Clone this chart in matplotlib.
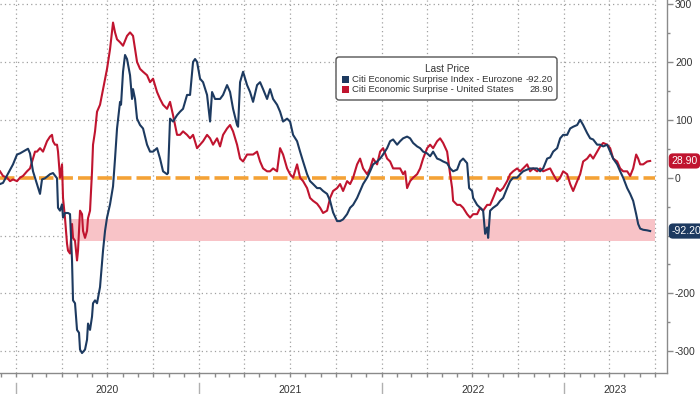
import numpy as np
import pandas as pd
import matplotlib
matplotlib.use('Agg')
import matplotlib.pyplot as plt
import matplotlib.dates as mdates
import matplotlib.transforms as mtransforms
from matplotlib.patches import FancyBboxPatch, Rectangle

# Citi Economic Surprise Index - Eurozone
euDates = ['2019-11-30', '2019-12-06', '2019-12-26', '2020-01-03', '2020-01-09', '2020-01-15',
	'2020-01-25', '2020-01-29', '2020-02-04', '2020-02-12', '2020-02-18', '2020-02-22',
	'2020-02-28', '2020-03-09', '2020-03-15', '2020-03-23', '2020-03-25', '2020-03-29',
	'2020-04-02', '2020-04-04', '2020-04-08', '2020-04-14', '2020-04-18', '2020-04-22',
	'2020-04-24', '2020-04-28', '2020-05-02', '2020-05-06', '2020-05-08', '2020-05-12',
	'2020-05-18', '2020-05-22', '2020-05-24', '2020-05-28', '2020-06-01', '2020-06-03',
	'2020-06-07', '2020-06-11', '2020-06-17', '2020-06-23', '2020-06-27', '2020-07-01',
	'2020-07-07', '2020-07-13', '2020-07-17', '2020-07-21', '2020-07-27', '2020-07-29',
	'2020-08-02', '2020-08-06', '2020-08-10', '2020-08-16', '2020-08-20', '2020-08-22',
	'2020-08-26', '2020-08-30', '2020-09-05', '2020-09-11', '2020-09-19', '2020-09-25',
	'2020-10-01', '2020-10-09', '2020-10-15', '2020-10-21', '2020-10-29', '2020-10-31',
	'2020-11-04', '2020-11-10', '2020-11-18', '2020-11-24', '2020-11-30', '2020-12-08',
	'2020-12-14', '2020-12-20', '2020-12-24', '2020-12-28', '2021-01-03', '2021-01-09',
	'2021-01-17', '2021-01-23', '2021-01-27', '2021-02-02', '2021-02-12', '2021-02-18',
	'2021-02-26', '2021-03-04', '2021-03-10', '2021-03-18', '2021-03-20', '2021-03-24',
	'2021-03-30', '2021-04-07', '2021-04-13', '2021-04-19', '2021-04-27', '2021-05-03',
	'2021-05-09', '2021-05-17', '2021-05-23', '2021-05-29', '2021-06-06', '2021-06-12',
	'2021-06-18', '2021-06-26', '2021-07-02', '2021-07-08', '2021-07-16', '2021-07-22',
	'2021-07-28', '2021-08-05', '2021-08-11', '2021-08-17', '2021-08-25', '2021-08-31',
	'2021-09-06', '2021-09-14', '2021-09-20', '2021-09-26', '2021-10-04', '2021-10-10',
	'2021-10-16', '2021-10-24', '2021-10-30', '2021-11-05', '2021-11-13', '2021-11-19',
	'2021-11-25', '2021-12-03', '2021-12-09', '2021-12-15', '2021-12-23', '2021-12-29',
	'2022-01-04', '2022-01-12', '2022-01-18', '2022-01-24', '2022-02-01', '2022-02-07',
	'2022-02-13', '2022-02-21', '2022-02-27', '2022-03-05', '2022-03-13', '2022-03-19',
	'2022-03-25', '2022-04-02', '2022-04-08', '2022-04-14', '2022-04-22', '2022-04-28',
	'2022-05-04', '2022-05-12', '2022-05-18', '2022-05-24', '2022-06-01', '2022-06-07',
	'2022-06-13', '2022-06-21', '2022-06-25', '2022-07-01', '2022-07-03', '2022-07-11',
	'2022-07-17', '2022-07-23', '2022-07-27', '2022-07-31', '2022-08-02', '2022-08-06',
	'2022-08-12', '2022-08-20', '2022-08-26', '2022-09-01', '2022-09-09', '2022-09-15',
	'2022-09-21', '2022-09-29', '2022-10-05', '2022-10-11', '2022-10-19', '2022-10-25',
	'2022-10-31', '2022-11-08', '2022-11-14', '2022-11-20', '2022-11-28', '2022-12-04',
	'2022-12-10', '2022-12-18', '2022-12-24', '2022-12-30', '2023-01-07', '2023-01-13',
	'2023-01-19', '2023-01-27', '2023-02-02', '2023-02-08', '2023-02-16', '2023-02-22',
	'2023-02-28', '2023-03-08', '2023-03-14', '2023-03-20', '2023-03-28', '2023-04-03',
	'2023-04-09', '2023-04-17', '2023-04-23', '2023-04-29', '2023-05-07', '2023-05-13',
	'2023-05-19', '2023-05-25', '2023-05-29', '2023-06-02', '2023-06-08', '2023-06-16',
	'2023-06-22']
euValues = [-11, -9, 23, 40, 42, 45, 50, 42, 11, -11, -28, -3,
	-1, 6, 8, -1, -52, -57, -46, -69, -61, -61, -63, -143,
	-212, -217, -263, -268, -297, -303, -297, -280, -252, -263, -240, -217,
	-212, -217, -189, -126, -92, -69, -46, -15, 33, 85, 131, 126,
	183, 212, 205, 177, 136, 153, 136, 102, 91, 85, 57, 45,
	45, 51, 33, 11, 6, 8, 102, 97, 108, 114, 119, 143,
	143, 200, 205, 200, 171, 165, 143, 97, 148, 136, 136, 143,
	160, 148, 119, 91, 88, 165, 183, 160, 148, 131, 160, 165,
	153, 136, 153, 136, 126, 114, 97, 102, 97, 74, 63, 45,
	28, 6, -6, -11, -18, -18, -23, -28, -40, -60, -75, -75,
	-72, -63, -52, -47, -35, -23, -11, 0, 11, 23, 28, 33,
	40, 51, 63, 66, 57, 63, 68, 71, 68, 60, 54, 51,
	45, 42, 37, 45, 33, 31, 28, 25, 16, 11, 14, 28,
	33, 25, -18, -23, -35, -47, -52, -57, -97, -86, -104, -57,
	-52, -47, -40, -35, -18, -6, 0, 0, 6, 11, 14, 16,
	16, 16, 11, 16, 33, 35, 45, 51, 68, 74, 74, 85,
	88, 91, 100, 91, 77, 68, 66, 57, 57, 54, 57, 45,
	33, 23, 11, 0, -18, -28, -40, -63, -80, -88, -90, -91,
	-92.2]

# Citi Economic Surprise - United States
usDates = ['2019-11-30', '2019-12-06', '2019-12-14', '2019-12-20', '2019-12-26', '2020-01-03',
	'2020-01-09', '2020-01-15', '2020-01-23', '2020-01-29', '2020-02-04', '2020-02-08',
	'2020-02-12', '2020-02-18', '2020-02-24', '2020-03-03', '2020-03-09', '2020-03-13',
	'2020-03-15', '2020-03-19', '2020-03-23', '2020-03-25', '2020-03-29', '2020-04-02',
	'2020-04-04', '2020-04-08', '2020-04-12', '2020-04-14', '2020-04-18', '2020-04-22',
	'2020-04-24', '2020-04-28', '2020-05-02', '2020-05-04', '2020-05-08', '2020-05-12',
	'2020-05-14', '2020-05-18', '2020-05-22', '2020-05-24', '2020-05-28', '2020-06-01',
	'2020-06-03', '2020-06-07', '2020-06-11', '2020-06-17', '2020-06-23', '2020-06-27',
	'2020-07-01', '2020-07-07', '2020-07-13', '2020-07-17', '2020-07-21', '2020-07-27',
	'2020-08-02', '2020-08-10', '2020-08-16', '2020-08-22', '2020-08-26', '2020-08-30',
	'2020-09-05', '2020-09-11', '2020-09-19', '2020-09-25', '2020-10-01', '2020-10-09',
	'2020-10-15', '2020-10-21', '2020-10-29', '2020-11-04', '2020-11-10', '2020-11-18',
	'2020-11-24', '2020-11-30', '2020-12-08', '2020-12-14', '2020-12-20', '2020-12-28',
	'2021-01-03', '2021-01-09', '2021-01-17', '2021-01-23', '2021-01-29', '2021-02-06',
	'2021-02-12', '2021-02-18', '2021-02-26', '2021-03-04', '2021-03-10', '2021-03-18',
	'2021-03-24', '2021-03-30', '2021-04-07', '2021-04-13', '2021-04-19', '2021-04-27',
	'2021-05-03', '2021-05-09', '2021-05-17', '2021-05-23', '2021-05-29', '2021-06-06',
	'2021-06-12', '2021-06-18', '2021-06-26', '2021-07-02', '2021-07-08', '2021-07-16',
	'2021-07-22', '2021-07-28', '2021-08-05', '2021-08-11', '2021-08-17', '2021-08-25',
	'2021-08-31', '2021-09-06', '2021-09-14', '2021-09-20', '2021-09-26', '2021-10-04',
	'2021-10-10', '2021-10-16', '2021-10-24', '2021-10-30', '2021-11-05', '2021-11-13',
	'2021-11-19', '2021-11-25', '2021-12-03', '2021-12-09', '2021-12-15', '2021-12-23',
	'2021-12-29', '2022-01-04', '2022-01-12', '2022-01-18', '2022-01-24', '2022-02-01',
	'2022-02-07', '2022-02-13', '2022-02-17', '2022-02-21', '2022-02-27', '2022-03-05',
	'2022-03-13', '2022-03-19', '2022-03-25', '2022-04-02', '2022-04-08', '2022-04-14',
	'2022-04-22', '2022-04-28', '2022-05-04', '2022-05-12', '2022-05-18', '2022-05-22',
	'2022-05-24', '2022-06-01', '2022-06-07', '2022-06-13', '2022-06-21', '2022-06-27',
	'2022-07-03', '2022-07-11', '2022-07-17', '2022-07-23', '2022-07-31', '2022-08-06',
	'2022-08-12', '2022-08-20', '2022-08-26', '2022-09-01', '2022-09-09', '2022-09-15',
	'2022-09-21', '2022-09-29', '2022-10-05', '2022-10-11', '2022-10-19', '2022-10-25',
	'2022-10-31', '2022-11-08', '2022-11-14', '2022-11-20', '2022-11-28', '2022-12-04',
	'2022-12-10', '2022-12-18', '2022-12-24', '2022-12-30', '2023-01-07', '2023-01-13',
	'2023-01-19', '2023-01-27', '2023-02-02', '2023-02-08', '2023-02-16', '2023-02-22',
	'2023-02-28', '2023-03-08', '2023-03-14', '2023-03-20', '2023-03-28', '2023-04-03',
	'2023-04-09', '2023-04-17', '2023-04-23', '2023-04-29', '2023-05-07', '2023-05-13',
	'2023-05-19', '2023-05-25', '2023-05-29', '2023-06-02', '2023-06-08', '2023-06-16',
	'2023-06-22']
usValues = [11, 3, 0, -6, -3, -6, 0, 3, 11, 16, 33, 45,
	45, 51, 45, 63, 71, 74, 63, 57, 57, 45, 0, 23,
	-35, -70, -114, -126, -131, -80, -104, -109, -143, -126, -57, -63,
	-92, -104, -92, -70, -57, 11, 57, 80, 114, 126, 153, 171,
	188, 222, 268, 251, 239, 234, 228, 245, 251, 245, 222, 200,
	188, 183, 177, 165, 171, 148, 136, 126, 119, 131, 108, 74,
	74, 80, 74, 68, 74, 51, 57, 63, 74, 68, 57, 68,
	54, 74, 85, 91, 80, 57, 33, 28, 40, 40, 40, 45,
	28, 16, 11, 11, 16, 11, 51, 40, 16, 6, 0, 23,
	0, -6, -18, -35, -40, -45, -52, -61, -57, -35, -23, -18,
	-11, -23, -6, -11, 0, 23, 33, 16, 6, 16, 33, 23,
	45, 51, 33, 28, 16, 16, 16, 6, 11, -18, -6, 0,
	6, 16, 33, 51, 57, 51, 63, 68, 60, 45, 6, -18,
	-40, -47, -47, -52, -63, -69, -63, -63, -52, -57, -47, -47,
	-35, -18, -23, -18, -6, 6, 11, 16, 11, 16, 23, 11,
	16, 11, 16, 11, 14, 16, 6, -6, 0, 11, 6, -11,
	-23, -6, 6, 28, 33, 40, 33, 45, 54, 60, 57, 51,
	33, 28, 16, 11, 11, 3, 16, 40, 33, 23, 23, 28,
	28.9]

euLabel = 'Citi Economic Surprise Index - Eurozone'
usLabel = 'Citi Economic Surprise - United States'
euLast = -92.20
usLast = 28.90
bandLow = -109
bandHigh = -72
yTicks = [-300, -200, -100, 0, 100, 200, 300]
yTickLabels = ['-300', '-200', '', '0', '100', '200', '300']
years = ['2020', '2021', '2022', '2023']

##########################################################################
# Colors
euColor = '#1d3a60'
usColor = '#c0142f'
bandColor = '#f8c3c7'
zeroColor = '#f4a236'
gridColor = '#a0a0a0'
axisColor = '#8a8a8a'
textColor = '#333333'
plt.rcParams['font.family'] = ['Liberation Sans', 'DejaVu Sans']

euX = pd.to_datetime(euDates)
usX = pd.to_datetime(usDates)
xStart = pd.Timestamp('2019-11-30')
xEnd = pd.Timestamp('2023-07-25')
gridEnd = pd.Timestamp('2023-07-01')

fig = plt.figure(figsize=(7.0, 3.94), dpi=100, facecolor='white')
ax = fig.add_axes([0.0, 0.054, 0.9524, 0.946])

# Grid (dotted), stops at last quarter line
quarters = pd.date_range('2020-01-01', gridEnd, freq='QS')
ax.vlines(quarters, -337, 307, colors=gridColor, linestyles=(0, (1, 2.5)),
	linewidth=0.9, zorder=1)
ax.hlines([-300, -200, -100, 100, 200, 300], xStart, gridEnd, colors=gridColor,
	linestyles=(0, (1, 2.5)), linewidth=0.9, zorder=1)

# Pink band
ax.fill_between([pd.Timestamp('2020-04-20'), gridEnd], bandLow, bandHigh,
	color=bandColor, linewidth=0, zorder=1.5)

# Zero line
ax.plot([xStart, gridEnd], [0, 0], color=zeroColor, linewidth=2.6,
	dashes=(4, 1.4), zorder=2, solid_capstyle='butt')

# Series
ax.plot(euX, euValues, color=euColor, linewidth=1.5, zorder=4)
ax.plot(usX, usValues, color=usColor, linewidth=1.5, zorder=3)

# Axes formatting
ax.set_xlim(xStart, xEnd)
ax.set_ylim(-337, 307)
for side in ['left', 'top']:
	ax.spines[side].set_visible(False)
for side in ['right', 'bottom']:
	ax.spines[side].set_color(axisColor)
	ax.spines[side].set_linewidth(1.0)

ax.yaxis.tick_right()
ax.set_yticks(yTicks)
ax.set_yticklabels(yTickLabels)
ax.set_yticks(np.arange(-250, 301, 100), minor=True)
ax.tick_params(axis='y', which='major', direction='out', length=4, width=1,
	color=axisColor, labelsize=7.5, labelcolor=textColor, pad=2)
ax.tick_params(axis='y', which='minor', direction='out', length=2.5, width=1,
	color=axisColor)

ax.xaxis.set_major_locator(mdates.MonthLocator())
ax.xaxis.set_minor_locator(mdates.MonthLocator())
ax.tick_params(axis='x', which='major', direction='out', length=3, width=1,
	color=axisColor, labelbottom=False)

# Year separators and labels
xform = mtransforms.blended_transform_factory(ax.transData, ax.transAxes)
for it in range(len(years)):
	yStart = pd.Timestamp(years[it] + '-01-01')
	ax.plot([yStart, yStart], [-0.027, -0.07], color='#b0b0b0', linewidth=1.0,
		transform=xform, clip_on=False)
	if it + 1 < len(years):
		yEnd = pd.Timestamp(years[it + 1] + '-01-01')
	else:
		yEnd = xEnd
	mid = yStart + (yEnd - yStart) / 2
	ax.text(mid, -0.047, years[it], transform=xform, ha='center', va='center',
		fontsize=7.5, color=textColor, clip_on=False)

# Last value tags on right
tagX = mtransforms.blended_transform_factory(ax.transAxes, ax.transData)
ax.text(1.007, usLast, '%.2f' % usLast, transform=tagX, ha='left', va='center',
	fontsize=7.5, color='white', zorder=6, clip_on=False,
	bbox=dict(boxstyle='round,pad=0.25,rounding_size=0.4', fc=usColor, ec='none'))
ax.text(1.007, euLast, '%.2f' % euLast, transform=tagX, ha='left', va='center',
	fontsize=7.5, color='white', zorder=6, clip_on=False,
	bbox=dict(boxstyle='round,pad=0.25,rounding_size=0.4', fc=euColor, ec='none'))

# Legend box (pixel coordinates)
px = mtransforms.IdentityTransform()
H = 394
box = FancyBboxPatch((336, H - 100), 221, 43, boxstyle='round,pad=0,rounding_size=3',
	fc='white', ec='#555555', linewidth=1.0, transform=px, zorder=10)
fig.patches.append(box)
fig.text(447, H - 69, 'Last Price', transform=px, ha='center', va='center',
	fontsize=7.2, color=textColor, zorder=11)
rows = [(euColor, euLabel, euLast, H - 79), (usColor, usLabel, usLast, H - 89)]
for color, label, last, yy in rows:
	fig.patches.append(Rectangle((342, yy - 3.5), 7, 7, fc=color, ec='none',
		transform=px, zorder=11))
	fig.text(352, yy, label, transform=px, ha='left', va='center',
		fontsize=6.8, color=textColor, zorder=11)
	fig.text(553, yy, '%.2f' % last, transform=px, ha='right', va='center',
		fontsize=6.8, color=textColor, zorder=11)

plt.savefig('out.png', dpi=100, facecolor='white')
